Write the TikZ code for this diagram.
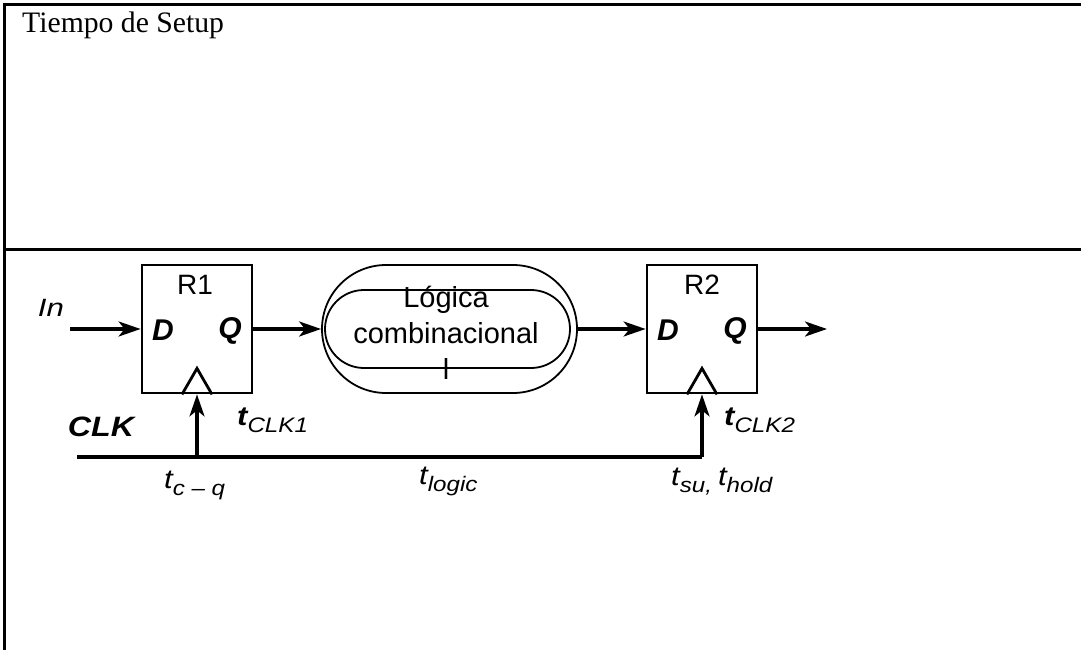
\documentclass[tikz,border=0pt]{standalone}
\usepackage{fontspec}
\setmainfont{Liberation Serif}
\newfontfamily\helv{Liberation Sans}
\usetikzlibrary{arrows.meta,shapes.misc,calc}
% timing label: t with a lowered, stretched subscript
\newcommand{\tsub}[2]{\scalebox{1.15}[1]{\fontsize{27}{27}\selectfont #1t\raisebox{-7pt}{\fontsize{21}{21}\selectfont\mdseries #2}}}

\begin{document}
\begin{tikzpicture}[x=1pt, y=-1pt,
  wire/.style={line width=3.2pt},
  sig/.style={wire, -{Stealth[length=22pt,width=15pt,inset=6pt]}},
  reg/.style={draw, line width=2.8pt, minimum width=110pt, minimum height=128pt, inner sep=0pt},
  pill/.style={draw, rounded rectangle, line width=1.8pt, inner sep=0pt},
  lbl/.style={font=\helv\fontsize{28}{34}\selectfont, inner sep=0pt},
  pin/.style={font=\helv\bfseries\itshape\fontsize{30}{34}\selectfont, inner sep=0pt},
  tim/.style={font=\helv\itshape, inner sep=0pt, anchor=base west}]
\useasboundingbox (0,0) rectangle (1081,650);

% table frame: left edge, top edge, row separator
\draw[line width=2.6pt] (4.7,650) -- (4.7,4.7) -- (1081,4.7);
\draw[line width=2.6pt] (3.6,249.5) -- (1081,249.5);
\node[anchor=base west, inner sep=0pt, font=\fontsize{29.7}{34}\selectfont] (title) at (22,33) {Tiempo de Setup};

% registers and combinational block
\node[reg] (R1) at (197,329) {};
\node[reg] (R2) at (702,329) {};
\node[pill, minimum width=255pt, minimum height=128pt] (logic) at (449.5,329) {};
\node[pill, minimum width=245pt, minimum height=78pt] (logicin) at (447.5,329) {};

% clock triangles
\foreach \r in {R1,R2}
  \draw[line width=2.8pt] ($(\r.south)+(-15,0)$) -- ($(\r.south)+(0,-26)$) -- ($(\r.south)+(15,0)$);

% free ends of the wires
\coordinate (inA) at (70,329);     % In
\coordinate (outB) at (827,329);   % R2 output
\coordinate (clkA) at (77,457);    % CLK line start
\coordinate (clkB) at (R2.south |- clkA);

% data path
\draw[sig] (inA) -- (R1.west);
\draw[sig] (R1.east) -- (logic.west);
\draw[sig] (logic.east) -- (R2.west);
\draw[sig] (R2.east) -- (outB);

% clock path
\draw[wire] (clkA) -- (clkB);
\draw[sig] (clkB) -- (R2.south);
\draw[sig] (R1.south |- clkA) -- (R1.south);

% register texts
\node[lbl] (r1name) at (195,285) {R1};
\node[lbl] (r2name) at (702,285) {R2};
\node[pin] (d1) at (163,330) {D};
\node[pin] (q1) at (230,331) {Q};
\node[pin] (d2) at (668,330) {D};
\node[pin] (q2) at (735,331) {Q};
\node[lbl, align=center, font=\helv\fontsize{29}{36}\selectfont] (logictxt) at (446,333) {Lógica\\combinacional\\l};

% signal names and delays
\node[inner sep=0pt, font=\helv\itshape\fontsize{25}{28}\selectfont] (inname) at (51,308) {\scalebox{1.25}[1]{In}};
\node[inner sep=0pt, font=\helv\bfseries\itshape\fontsize{28}{30}\selectfont] (clkname) at (101,427) {\scalebox{1.15}[1]{CLK}};
\node[tim] (tclk1) at (237,425) {\tsub{\bfseries}{CLK1}};
\node[tim] (tclk2) at (724,425) {\tsub{\bfseries}{CLK2}};
\node[tim] (tcq) at (164,488) {\tsub{}{c – q}};
\node[tim] (tlogic) at (419,484) {\tsub{}{logic}};
\node[tim] (tsu) at (671,485) {\tsub{}{su,}\hspace{6pt}\tsub{}{hold}};

\end{tikzpicture}
\end{document}
